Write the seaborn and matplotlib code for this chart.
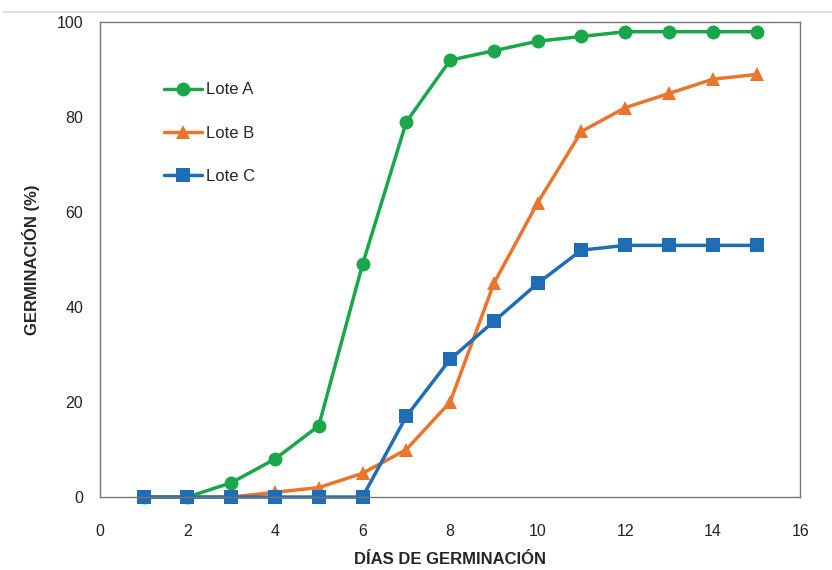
import matplotlib
matplotlib.use("Agg")
import matplotlib.pyplot as plt
from matplotlib.lines import Line2D
from matplotlib.ticker import MultipleLocator
import pandas as pd
import seaborn as sns

# data
days = list(range(1, 16))
lote_a = [0, 0, 3, 8, 15, 49, 79, 92, 94, 96, 97, 98, 98, 98, 98]
lote_b = [0, 0, 0, 1, 2, 5, 10, 20, 45, 62, 77, 82, 85, 88, 89]
lote_c = [0, 0, 0, 0, 0, 0, 17, 29, 37, 45, 52, 53, 53, 53, 53]
series_names = ["Lote A", "Lote B", "Lote C"]

colors = {"Lote A": "#1aa64a", "Lote B": "#e8762c", "Lote C": "#1f6db5"}
markers = {"Lote A": "o", "Lote B": "^", "Lote C": "s"}
msizes = {"Lote A": 10, "Lote B": 9.5, "Lote C": 10}

df = pd.concat([
    pd.DataFrame({"dia": days, "germ": vals, "lote": name})
    for name, vals in zip(series_names, [lote_a, lote_b, lote_c])
])

sns.set_style("white")
plt.rcParams["font.family"] = ["Liberation Sans", "DejaVu Sans"]

fig = plt.figure(figsize=(8.32, 5.70), dpi=100)
ax = fig.add_axes([0.120, 0.128, 0.842, 0.833])

for name in series_names:
    sub = df[df["lote"] == name]
    sns.lineplot(data=sub, x="dia", y="germ", ax=ax, color=colors[name],
                 marker=markers[name], markersize=msizes[name], markeredgewidth=0,
                 linewidth=2.5, label=name, clip_on=False)

ax.set_xlim(0, 16)
ax.set_ylim(0, 100)
ax.xaxis.set_major_locator(MultipleLocator(2))
ax.xaxis.set_minor_locator(MultipleLocator(1))
ax.yaxis.set_major_locator(MultipleLocator(20))
ax.yaxis.set_minor_locator(MultipleLocator(10))
ax.tick_params(which="both", direction="in", color="#555555", labelsize=11.5,
               labelcolor="#222222", length=5)
ax.tick_params(axis="x", which="major", pad=19.5)
ax.tick_params(axis="y", which="major", pad=12)
for sp in ax.spines.values():
    sp.set_color("#777777")
    sp.set_linewidth(1)

ax.set_xlabel("DÍAS DE GERMINACIÓN", fontsize=12, fontweight="bold", labelpad=9)
ax.set_ylabel("GERMINACIÓN (%)", fontsize=12, fontweight="bold", labelpad=12)

ax.legend(loc="upper left", bbox_to_anchor=(0.07, 0.905), frameon=False,
          fontsize=12, labelspacing=1.7, handlelength=2.3, handletextpad=0.2)

fig.add_artist(Line2D([0.005, 1.0], [0.979, 0.979], color="#dddddd", lw=1.5))

fig.savefig("out.png", dpi=100)
